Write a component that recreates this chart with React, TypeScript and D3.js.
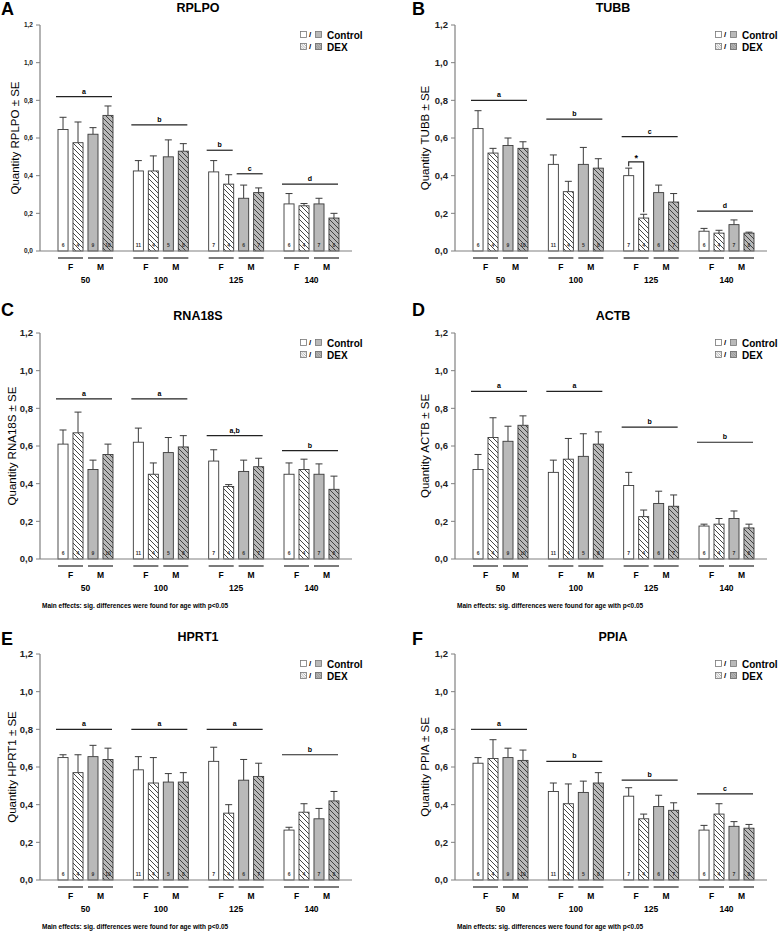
import * as d3 from 'd3';

const ages = ['50', '100', '125', '140'];
const sexes = ['F', 'M'];
const bars = ['F-Control', 'F-DEX', 'M-Control', 'M-DEX'];
const nPerBar = [[6, 4, 9, 10], [11, 4, 5, 8], [7, 4, 6, 7], [6, 4, 7, 8]];
const yTicks = [0, 0.2, 0.4, 0.6, 0.8, 1.0, 1.2];
const footnote = 'Main effects: sig. differences were found for age with p<0.05';

// means and SE, rows = age, cols = F-Control, F-DEX, M-Control, M-DEX
const rplpoMean = [[0.645, 0.575, 0.62, 0.72], [0.425, 0.425, 0.5, 0.53], [0.42, 0.355, 0.28, 0.31], [0.25, 0.24, 0.25, 0.175]];
const rplpoSe = [[0.065, 0.11, 0.035, 0.05], [0.055, 0.08, 0.09, 0.04], [0.06, 0.05, 0.07, 0.025], [0.055, 0.012, 0.03, 0.025]];
const tubbMean = [[0.65, 0.52, 0.56, 0.545], [0.46, 0.315, 0.46, 0.44], [0.4, 0.175, 0.31, 0.26], [0.105, 0.095, 0.14, 0.095]];
const tubbSe = [[0.095, 0.025, 0.04, 0.035], [0.05, 0.055, 0.09, 0.05], [0.04, 0.02, 0.04, 0.045], [0.015, 0.015, 0.025, 0.005]];
const rna18sMean = [[0.61, 0.67, 0.475, 0.555], [0.62, 0.45, 0.565, 0.595], [0.52, 0.385, 0.465, 0.49], [0.45, 0.475, 0.45, 0.37]];
const rna18sSe = [[0.075, 0.11, 0.05, 0.055], [0.075, 0.06, 0.08, 0.06], [0.06, 0.01, 0.06, 0.045], [0.06, 0.055, 0.055, 0.07]];
const actbMean = [[0.475, 0.645, 0.625, 0.71], [0.46, 0.53, 0.545, 0.61], [0.39, 0.225, 0.295, 0.28], [0.175, 0.185, 0.215, 0.165]];
const actbSe = [[0.08, 0.105, 0.08, 0.05], [0.065, 0.11, 0.12, 0.065], [0.07, 0.035, 0.065, 0.06], [0.01, 0.03, 0.04, 0.02]];
const hprt1Mean = [[0.65, 0.57, 0.655, 0.64], [0.585, 0.515, 0.52, 0.52], [0.63, 0.355, 0.53, 0.55], [0.265, 0.36, 0.325, 0.42]];
const hprt1Se = [[0.015, 0.095, 0.06, 0.06], [0.07, 0.135, 0.045, 0.05], [0.075, 0.045, 0.11, 0.07], [0.015, 0.045, 0.055, 0.05]];
const ppiaMean = [[0.62, 0.645, 0.65, 0.635], [0.47, 0.405, 0.465, 0.515], [0.445, 0.325, 0.39, 0.37], [0.265, 0.35, 0.285, 0.275]];
const ppiaSe = [[0.03, 0.1, 0.05, 0.055], [0.045, 0.105, 0.06, 0.055], [0.045, 0.025, 0.06, 0.04], [0.025, 0.055, 0.025, 0.02]];

// significance lines: age index, first bar, last bar, height, letter
const rplpoSig = [[0, 0, 3, 0.82, 'a'], [1, 0, 3, 0.67, 'b'], [2, 0, 1, 0.535, 'b'], [2, 2, 3, 0.41, 'c'], [3, 0, 3, 0.355, 'd']];
const tubbSig = [[0, 0, 3, 0.8, 'a'], [1, 0, 3, 0.7, 'b'], [2, 0, 3, 0.607, 'c'], [3, 0, 3, 0.212, 'd']];
const rna18sSig = [[0, 0, 3, 0.85, 'a'], [1, 0, 3, 0.85, 'a'], [2, 0, 3, 0.655, 'a,b'], [3, 0, 3, 0.575, 'b']];
const actbSig = [[0, 0, 3, 0.89, 'a'], [1, 0, 3, 0.89, 'a'], [2, 0, 3, 0.7, 'b'], [3, 0, 3, 0.62, 'b']];
const hprt1Sig = [[0, 0, 3, 0.8, 'a'], [1, 0, 3, 0.8, 'a'], [2, 0, 3, 0.8, 'a'], [3, 0, 3, 0.665, 'b']];
const ppiaSig = [[0, 0, 3, 0.8, 'a'], [1, 0, 3, 0.63, 'b'], [2, 0, 3, 0.53, 'b'], [3, 0, 3, 0.457, 'c']];
// TUBB 125 F: Control vs DEX
const tubbStar = [[2, 0, 1, 0.473, '*']];

const FONT = 'Liberation Sans, Arial, Helvetica, sans-serif';
const GRAY = '#b9b9b9';
const EDGE = '#3a3a3a';
const AXIS = '#808080';

const panels = [
  { letter: 'A', gene: 'RPLPO', mean: rplpoMean, se: rplpoSe, sig: rplpoSig, star: [], x0: 40, y0: 251, letterX: 1, letterY: 15, tickSize: 6.5, labelDx: -25, note: false },
  { letter: 'B', gene: 'TUBB', mean: tubbMean, se: tubbSe, sig: tubbSig, star: tubbStar, x0: 455, y0: 251, letterX: 412, letterY: 15, tickSize: 9.5, labelDx: -30, note: false },
  { letter: 'C', gene: 'RNA18S', mean: rna18sMean, se: rna18sSe, sig: rna18sSig, star: [], x0: 40, y0: 559, letterX: 1, letterY: 316, tickSize: 9.5, labelDx: -28, note: true },
  { letter: 'D', gene: 'ACTB', mean: actbMean, se: actbSe, sig: actbSig, star: [], x0: 455, y0: 559, letterX: 412, letterY: 316, tickSize: 9.5, labelDx: -30, note: true },
  { letter: 'E', gene: 'HPRT1', mean: hprt1Mean, se: hprt1Se, sig: hprt1Sig, star: [], x0: 40, y0: 880, letterX: 1, letterY: 645, tickSize: 9.5, labelDx: -28, note: true },
  { letter: 'F', gene: 'PPIA', mean: ppiaMean, se: ppiaSe, sig: ppiaSig, star: [], x0: 455, y0: 880, letterX: 412, letterY: 645, tickSize: 9.5, labelDx: -30, note: true },
];

const fmt = (v: number) => d3.format('.1f')(v).replace('.', ',');

function Panel({ p }: { p: any }) {
  const { x0, y0 } = p;
  const y = d3.scaleLinear().domain([0, 1.2]).range([y0, y0 - 226]);
  const xAge = d3.scaleBand().domain(ages).range([x0 + 18, x0 + 299]).paddingInner(0.27).paddingOuter(0);
  const xBar = d3.scaleBand().domain(bars).range([0, xAge.bandwidth()]).paddingInner(0.33).paddingOuter(0);
  const bw = xBar.bandwidth();
  const bx = (a: number, b: number) => (xAge(ages[a]) as number) + (xBar(bars[b]) as number);
  const midX = x0 + 158;

  return (
    <g fontFamily={FONT}>
      <text x={p.letterX} y={p.letterY} fontSize={18} fontWeight="bold">{p.letter}</text>
      <text x={midX} y={y0 - 239} fontSize={12.5} fontWeight="bold" textAnchor="middle">{p.gene}</text>

      {/* y axis */}
      <line x1={x0} x2={x0} y1={y0} y2={y(1.2)} stroke={AXIS} strokeWidth={1.2} />
      {yTicks.map((t) => (
        <g key={t}>
          <line x1={x0 - 4} x2={x0} y1={y(t)} y2={y(t)} stroke={AXIS} strokeWidth={1} />
          <text x={x0 - 7} y={y(t)} dy="0.35em" fontSize={p.tickSize} fontWeight="bold" textAnchor="end" fill="#222">{fmt(t)}</text>
        </g>
      ))}
      <text transform={`translate(${x0 + p.labelDx},${y(0.6)}) rotate(-90)`} fontSize={11.5} textAnchor="middle" dy="0.35em">
        {`Quantity ${p.gene} ± SE`}
      </text>

      {/* bars */}
      {p.mean.map((row: number[], a: number) =>
        row.map((m: number, b: number) => {
          const x = bx(a, b);
          const top = y(m);
          const eTop = y(m + p.se[a][b]);
          const fill = b < 2 ? '#fff' : GRAY;
          const hatched = b % 2 === 1;
          return (
            <g key={`${a}-${b}`}>
              <line x1={x + bw / 2} x2={x + bw / 2} y1={top} y2={eTop} stroke={EDGE} strokeWidth={1} />
              <line x1={x + bw / 2 - 3.5} x2={x + bw / 2 + 3.5} y1={eTop} y2={eTop} stroke={EDGE} strokeWidth={1} />
              <rect x={x} y={top} width={bw} height={y0 - top} fill={fill} />
              {hatched && <rect x={x} y={top} width={bw} height={y0 - top} fill="url(#hatch)" />}
              <rect x={x} y={top} width={bw} height={y0 - top} fill="none" stroke={EDGE} strokeWidth={0.9} />
              <text x={x + bw / 2} y={y0 - 4} fontSize={5} fontWeight="bold" textAnchor="middle" fill="#333">{nPerBar[a][b]}</text>
            </g>
          );
        })
      )}

      {/* x axis */}
      <line x1={x0} x2={x0 + 312} y1={y0} y2={y0} stroke={AXIS} strokeWidth={1.2} />
      {ages.map((age, a) => (
        <g key={age}>
          {sexes.map((s, k) => {
            const l = bx(a, k * 2);
            const r = bx(a, k * 2 + 1) + bw;
            return (
              <g key={s}>
                <line x1={l} x2={r} y1={y0 + 7} y2={y0 + 7} stroke="#222" strokeWidth={1.2} />
                <text x={(l + r) / 2} y={y0 + 19} fontSize={8.5} fontWeight="bold" textAnchor="middle">{s}</text>
              </g>
            );
          })}
          <text x={(xAge(age) as number) + xAge.bandwidth() / 2} y={y0 + 31.5} fontSize={8.5} fontWeight="bold" textAnchor="middle">{age}</text>
        </g>
      ))}

      {/* group letters */}
      {p.sig.map((s: any[], i: number) => {
        const l = bx(s[0], s[1]) - 2;
        const r = bx(s[0], s[2]) + bw - 1;
        return (
          <g key={i}>
            <line x1={l} x2={r} y1={y(s[3])} y2={y(s[3])} stroke="#222" strokeWidth={1.2} />
            <text x={(l + r) / 2} y={y(s[3]) - 3} fontSize={7} fontWeight="bold" textAnchor="middle">{s[4]}</text>
          </g>
        );
      })}
      {p.star.map((s: any[], i: number) => {
        const lx = bx(s[0], s[1]) + bw / 2;
        const rx = bx(s[0], s[2]) + bw / 2;
        const ly = y(p.mean[s[0]][s[1]] + p.se[s[0]][s[1]]) - 2;
        const ry = y(p.mean[s[0]][s[2]] + p.se[s[0]][s[2]]) - 2;
        return (
          <g key={`st${i}`}>
            <path d={`M${lx},${ly}V${y(s[3])}H${rx}V${ry}`} fill="none" stroke="#222" strokeWidth={1.1} />
            <text x={(lx + rx) / 2} y={y(s[3]) - 1} fontSize={9} fontWeight="bold" textAnchor="middle">{s[4]}</text>
          </g>
        );
      })}

      {/* legend */}
      <g>
        <rect x={x0 + 260.5} y={y0 - 219.5} width={6} height={6} fill="#fff" stroke="#777" strokeWidth={0.8} />
        <text x={x0 + 269} y={y0 - 214} fontSize={8} fontWeight="bold">/</text>
        <rect x={x0 + 275.5} y={y0 - 219.5} width={6} height={6} fill={GRAY} stroke="#777" strokeWidth={0.8} />
        <text x={x0 + 287} y={y0 - 212} fontSize={10} fontWeight="bold">Control</text>
        <rect x={x0 + 260.5} y={y0 - 207.5} width={6} height={6} fill="url(#hatchLight)" stroke="#777" strokeWidth={0.8} />
        <text x={x0 + 269} y={y0 - 202} fontSize={8} fontWeight="bold">/</text>
        <rect x={x0 + 275.5} y={y0 - 207.5} width={6} height={6} fill={GRAY} stroke="#777" strokeWidth={0.8} />
        <rect x={x0 + 275.5} y={y0 - 207.5} width={6} height={6} fill="url(#hatchLight)" stroke="#777" strokeWidth={0.8} />
        <text x={x0 + 287} y={y0 - 200} fontSize={10} fontWeight="bold">DEX</text>
      </g>

      {p.note && (
        <text x={x0 + 2} y={y0 + 49} fontSize={6.5} fontWeight="bold">{footnote}</text>
      )}
    </g>
  );
}

export default function App() {
  return (
    <svg width={778} height={932} style={{ position: 'absolute', left: 0, top: 0, background: '#fff' }}>
      <defs>
        <pattern id="hatch" patternUnits="userSpaceOnUse" width={5} height={5}>
          <path d="M-1,-1L6,6M-1,4L1,6M4,-1L6,1" stroke="#333" strokeWidth={0.9} />
        </pattern>
        <pattern id="hatchLight" patternUnits="userSpaceOnUse" width={2.5} height={2.5}>
          <path d="M-1,-1L3.5,3.5M-1,1.5L1,3.5M1.5,-1L3.5,1" stroke="#777" strokeWidth={0.6} />
        </pattern>
      </defs>
      <rect width={778} height={932} fill="#fff" />
      {panels.map((p) => (
        <Panel key={p.letter} p={p} />
      ))}
    </svg>
  );
}
